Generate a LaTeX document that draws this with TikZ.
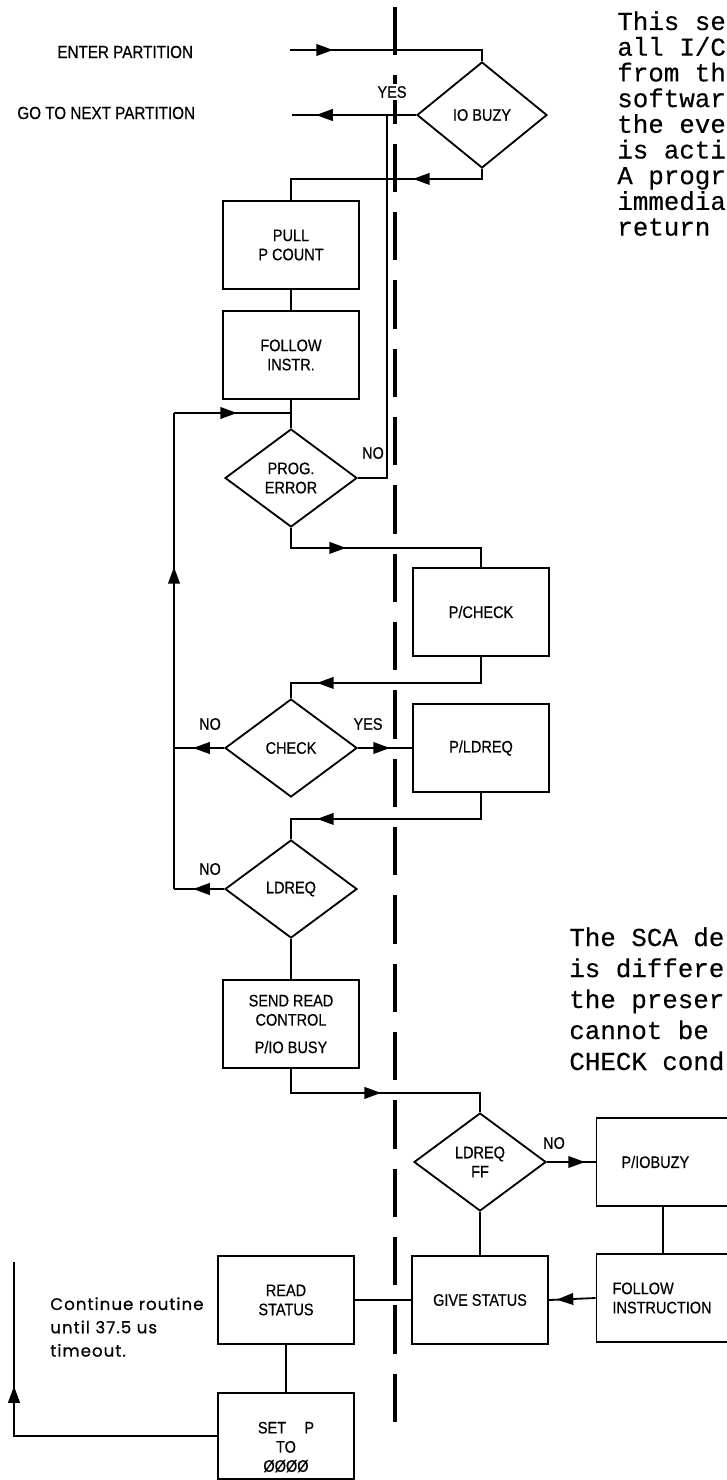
\documentclass[tikz,border=0pt]{standalone}
\usepackage{fontspec}
\setmainfont{Liberation Sans}[FakeStretch=0.87, FakeBold=0.5]
\newfontfamily\typer{Liberation Mono}[FakeBold=0.3]
\newfontfamily\notefont{Poppins}[LetterSpace=6, FakeBold=0.6]
\usepackage{tikz}
\usetikzlibrary{arrows.meta,positioning,shapes.geometric,decorations.markings,calc}
\newcommand\lbl{\fontsize{10pt}{11.5pt}\selectfont}
\newcommand\lblbig{\fontsize{10.5pt}{12pt}\selectfont}
\tikzset{
  stepbox/.style={draw, line width=1.1pt, align=center, font=\lbl, minimum width=81.6pt, minimum height=52.8pt, inner sep=2pt},
  decide/.style={draw, diamond, line width=1.1pt, align=center, font=\lbl, minimum width=79.2pt, minimum height=58.8pt, inner sep=0pt},
  flowline/.style={line width=1.1pt},
  tipat/.style={postaction={decorate}, decoration={markings, mark=at position #1 with {\arrow{Triangle[length=10pt,width=7pt]}}}},
  divider/.style={line width=1.9pt, dash pattern=on 29pt off 12pt},
  tag/.style={font=\lbl, inner sep=1pt, align=center},
  memo/.style={font=\typer\fontsize{15.5pt}{15.4pt}\selectfont, inner sep=0pt},
  sidenote/.style={font=\notefont\fontsize{10pt}{14pt}\selectfont, align=left, inner sep=0pt},
}

\begin{document}
\begin{tikzpicture}[x=0.6pt, y=-0.6pt]
\useasboundingbox (0,0) rectangle (726,1480);
\fill[white] (0,0) rectangle (726,1480);
% program side | device side
\coordinate (divtop) at (395,7);
\coordinate (divbot) at (395,1433);
\draw[divider] (divtop) -- (divbot);

% entry and exit
\node[tag, font=\lblbig, anchor=east] (enter) at (195,52) {ENTER PARTITION};
\node[tag, font=\lblbig, anchor=east] (next) at (197,113) {GO TO NEXT PARTITION};
\coordinate (enterin) at (290,50);
\coordinate (gonext) at (292,115);
\coordinate (gojoin) at (387,115);

% steps
\node[decide, minimum width=78pt, minimum height=63.6pt] (iobuzy) at (482,115) {IO BUZY};
\node[stepbox] (pull) at (291,245) {PULL\\P COUNT};
\node[stepbox] (follow) at (291,355) {FOLLOW\\INSTR.};
\node[decide] (prog) at (291,478) {PROG.\\ERROR};
\node[stepbox] (pcheck) at (481,612) {P/CHECK};
\node[decide] (check) at (291,748) {CHECK};
\node[stepbox] (pldreq) at (481,748) {P/LDREQ};
\node[decide] (ldreq) at (291,889) {LDREQ};
\node[stepbox] (send) at (291,1024) {SEND READ\\CONTROL\\[5pt]P/IO BUSY};
\node[decide] (ldreqff) at (480,1162) {LDREQ\\FF};
\node[stepbox, text width=67.8pt, inner xsep=15pt, align=left] (iobuz) at (678,1162) {P/IOBUZY};
\node[stepbox, text width=78.6pt, inner xsep=9.6pt, align=left] (folins) at (678,1298) {FOLLOW\\INSTRUCTION};
\node[stepbox] (give) at (480,1300) {GIVE STATUS};
\node[stepbox] (read) at (286,1300) {READ\\STATUS};
\node[stepbox, minimum height=51.6pt] (setp) at (286,1436) {};
\node[tag] (setptext) at (286,1447) {SET\hspace{1.1em}P\\TO\\ØØØØ};

% branch labels
\node[tag, fill=white] (yesA) at (392,92) {YES};
\node[tag] (noA) at (373,453) {NO};
\node[tag] (noB) at (210,724) {NO};
\node[tag] (yesB) at (368,724) {YES};
\node[tag] (noC) at (210,869) {NO};
\node[tag] (noD) at (554,1143) {NO};

% loop back on the left
\coordinate (loopbot) at (174,889);
\coordinate (looptop) at (174,413);
\coordinate (join) at (291,413);
\coordinate (retend) at (14,1262);

% connectors
\draw[flowline, tipat=25.8pt] (enterin) -| (iobuzy.north);
\draw[flowline, tipat=60pt] (iobuzy.west) -- (gonext);
\draw[flowline, tipat=47.4pt] (iobuzy.south) -- ++(0,10) -| (pull.north);
\draw[flowline] (pull) -- (follow);
\draw[flowline] (follow) -- (prog);
\draw[flowline] (prog.east) -| (gojoin);
\draw[flowline, tipat=45pt] (prog.south) -- ++(0,20) -| (pcheck.north);
\draw[flowline, tipat=114pt] (pcheck.south) -- ++(0,26) -| (check.north);
\draw[flowline, tipat=19.2pt] (check.east) -- (pldreq.west);
\draw[flowline, tipat=18.6pt] (check.west) -- (check.west -| loopbot);
\draw[flowline, tipat=114pt] (pldreq.south) -- ++(0,26) -| (ldreq.north);
\draw[flowline, tipat=18.6pt] (ldreq.west) -- (loopbot);
\draw[flowline, tipat=193.2pt] (loopbot) -- (looptop);
\draw[flowline, tipat=37.8pt] (looptop) -- (join);
\draw[flowline] (ldreq) -- (send);
\draw[flowline, tipat=68.4pt] (send.south) -- ++(0,24) -| (ldreqff.north);
\draw[flowline, tipat=22.8pt] (ldreqff.east) -- (iobuz.west);
\draw[flowline] ([xshift=-9pt]iobuz.south) -- ([xshift=-9pt]folins.north);
\draw[flowline] (ldreqff) -- (give);
\draw[flowline, tipat=23.4pt] (folins.west) -- (give.east);
\draw[flowline] (give) -- (read);
\draw[flowline] (read) -- (setp);
\draw[flowline, tipat=151.8pt] (setp.west) -| (retend);

% notes
\node[sidenote, anchor=west] (routine) at (50,1327) {Continue routine\\until 37.5 us\\timeout.};
\foreach \ln [count=\i] in {This se,all I/C,from th,softwar,the eve,is acti,A progr,immedia,return}
  \node[memo, anchor=base west] (memotop-\i) at (617,{30+25.7*(\i-1)}) {\ln};
\foreach \ln [count=\i] in {The SCA de,is differe,the preser,cannot be,CHECK cond}
  \node[memo, anchor=base west] (memobot-\i) at (569,{946+31*(\i-1)}) {\ln};
\end{tikzpicture}
\end{document}
